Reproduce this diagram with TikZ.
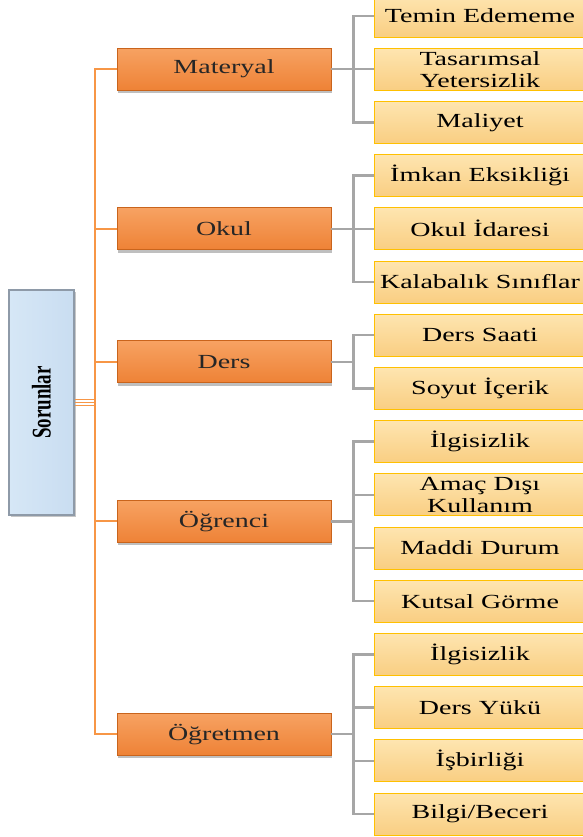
\documentclass[tikz,border=0pt]{standalone}
\usepackage{fontspec}
\setmainfont{Liberation Serif}[FakeStretch=1.4]
\newfontfamily\rootfont{Liberation Serif}[FakeStretch=0.7]
\usetikzlibrary{shadows}
\usetikzlibrary{positioning}

\definecolor{trunkorange}{HTML}{F79646}
\definecolor{catedge}{HTML}{C9641C}
\definecolor{cattop}{HTML}{F7A262}
\definecolor{catbottom}{HTML}{EE8236}
\definecolor{leafedge}{HTML}{FFC000}
\definecolor{leaftop}{HTML}{FEE5B0}
\definecolor{leafbottom}{HTML}{F9CE82}
\definecolor{rootedge}{HTML}{8E9AA8}
\definecolor{rootleft}{HTML}{D6E7F6}
\definecolor{rootright}{HTML}{C9DDF1}
\definecolor{branchgray}{HTML}{A6A6A6}

\tikzset{
  rootbox/.style={draw=rootedge, line width=1.2pt, left color=rootleft, right color=rootright,
    minimum width=65pt, minimum height=225pt, inner sep=0pt,
    drop shadow={opacity=0.45, shadow xshift=2pt, shadow yshift=-2pt}},
  catbox/.style={draw=catedge, line width=0.8pt, top color=cattop, bottom color=catbottom,
    minimum width=214pt, minimum height=42pt, inner sep=0pt, text=black!85,
    font=\fontsize{20}{22}\selectfont,
    drop shadow={opacity=0.5, shadow xshift=1pt, shadow yshift=-3pt}},
  leafbox/.style={draw=leafedge, line width=0.8pt, top color=leaftop, bottom color=leafbottom,
    minimum width=212pt, minimum height=42pt, inner sep=0pt, align=center,
    font=\fontsize{20}{22}\selectfont},
  trunk/.style={draw=trunkorange, line width=2pt},
  branch/.style={draw=branchgray, line width=2.4pt}
}

\begin{document}
\begin{tikzpicture}[x=1pt,y=1pt]
  \useasboundingbox (0,0) rectangle (582,-837);

  % Root
  \node[rootbox] (root) at (41.5,-402.5) {};
  \node[rotate=90, font=\rootfont\bfseries\fontsize{27}{29}\selectfont] (rootlbl) at (root.center) {Sorunlar};

  % Categories
  \node[catbox] (mat) at (224,-69.2)  {Materyal};
  \node[catbox] (okul) at (224,-228.8) {Okul};
  \node[catbox] (ders) at (224,-361.8) {Ders};
  \node[catbox] (ogr) at (224,-521.4) {Öğrenci};
  \node[catbox] (ogt) at (224,-734.2) {Öğretmen};

  % Leaves
  \node[leafbox] (m1) at (480,-16)    {Temin Edememe};
  \node[leafbox] (m2) at (480,-69.2)  {Tasarımsal\\Yetersizlik};
  \node[leafbox] (m3) at (480,-122.4) {Maliyet};
  \node[leafbox] (k1) at (480,-175.6) {İmkan Eksikliği};
  \node[leafbox] (k2) at (480,-228.8) {Okul İdaresi};
  \node[leafbox] (k3) at (480,-282)   {Kalabalık Sınıflar};
  \node[leafbox] (d1) at (480,-335.2) {Ders Saati};
  \node[leafbox] (d2) at (480,-388.4) {Soyut İçerik};
  \node[leafbox] (r1) at (480,-441.6) {İlgisizlik};
  \node[leafbox] (r2) at (480,-494.8) {Amaç Dışı\\Kullanım};
  \node[leafbox] (r3) at (480,-548)   {Maddi Durum};
  \node[leafbox] (r4) at (480,-601.2) {Kutsal Görme};
  \node[leafbox] (t1) at (480,-654.4) {İlgisizlik};
  \node[leafbox] (t2) at (480,-707.6) {Ders Yükü};
  \node[leafbox] (t3) at (480,-760.8) {İşbirliği};
  \node[leafbox] (t4) at (480,-814)   {Bilgi/Beceri};

  % Orange trunk
  \coordinate (jn) at (95,-402.5);
  \draw[trunk] (mat.west) -| (jn) |- (ogt.west);
  \foreach \c in {okul,ders,ogr}
    \draw[trunk] (\c.west) -- (\c.west -| jn);
  \foreach \d in {-3,0,3}
    \draw[trunkorange, line width=1.1pt] ([yshift=\d pt]root.east) -- ([yshift=\d pt]root.east -| jn);

  % Gray branches
  \foreach \c/\list in {mat/{m1,m2,m3}, okul/{k1,k2,k3}, ders/{d1,d2}, ogr/{r1,r2,r3,r4}, ogt/{t1,t2,t3,t4}} {
    \coordinate (\c-b) at ([xshift=22pt]\c.east);
    \draw[branch] (\c.east) -- (\c-b);
    \foreach \l in \list
      \draw[branch] (\l.west) -| (\c-b);
  }
\end{tikzpicture}
\end{document}
